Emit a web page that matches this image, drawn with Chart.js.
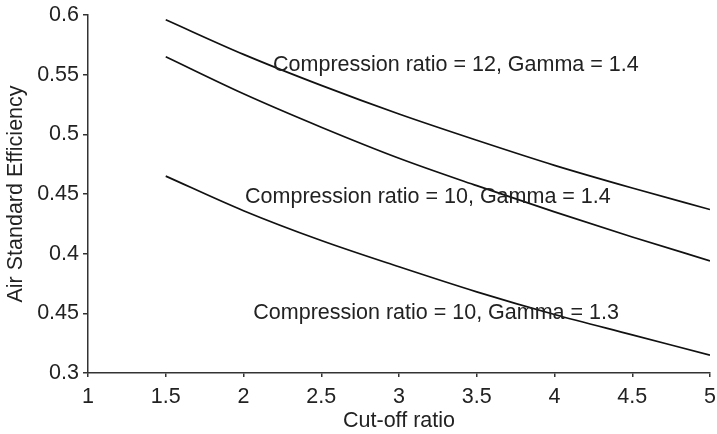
<!DOCTYPE html>
<html>
<head>
<meta charset="utf-8">
<script src="https://cdn.jsdelivr.net/npm/chart.js@4.4.1/dist/chart.umd.min.js"></script>
<style>
  html, body { margin: 0; padding: 0; background: #ffffff; }
  #wrap { width: 717px; height: 434px; }
</style>
</head>
<body>
<div id="wrap"><canvas id="c" width="717" height="434"></canvas></div>
<script>
// Cut-off ratio values (x)
const cutoffRatios = [1.5, 2, 2.5, 3, 3.5, 4, 4.5, 5];
// Air standard efficiency
const effR12G14 = [0.596, 0.567, 0.541, 0.517, 0.495, 0.474, 0.455, 0.437];
const effR10G14 = [0.565, 0.534, 0.506, 0.480, 0.457, 0.435, 0.414, 0.394];
const effR10G13 = [0.465, 0.436, 0.411, 0.389, 0.368, 0.349, 0.332, 0.315];
const seriesNames = [
  "Compression ratio = 12, Gamma = 1.4",
  "Compression ratio = 10, Gamma = 1.4",
  "Compression ratio = 10, Gamma = 1.3"
];
// Tick labels as printed in the original (including its "0.45" label at 0.35)
const xTickLabels = ["1", "1.5", "2", "2.5", "3", "3.5", "4", "4.5", "5"];
const yTickLabels = ["0.3", "0.45", "0.4", "0.45", "0.5", "0.55", "0.6"];
// Where each curve's text label sits, in data units (left edge, baseline)
const labelAnchors = [
  { x: 2.19, y: 0.5533 },
  { x: 2.01, y: 0.4428 },
  { x: 2.063, y: 0.3452 }
];

const FONT = "'Liberation Sans', Arial, Helvetica, sans-serif";
const FSIZE = 21.5;
const TEXT = '#222222';
const AXIS = '#333333';

function toPoints(ys) { return cutoffRatios.map((x, i) => ({ x: x, y: ys[i] })); }

const curveLabels = {
  id: 'curveLabels',
  afterDatasetsDraw(chart) {
    const { ctx, scales: { x, y } } = chart;
    ctx.save();
    ctx.font = FSIZE + 'px ' + FONT;
    ctx.fillStyle = TEXT;
    ctx.textAlign = 'left';
    ctx.textBaseline = 'alphabetic';
    labelAnchors.forEach((a, i) => {
      ctx.fillText(seriesNames[i], x.getPixelForValue(a.x), y.getPixelForValue(a.y));
    });
    ctx.restore();
  }
};

const lineStyle = {
  borderColor: '#111111',
  borderWidth: 1.7,
  pointRadius: 0,
  fill: false,
  cubicInterpolationMode: 'monotone'
};

new Chart(document.getElementById('c'), {
  type: 'line',
  data: {
    datasets: [
      Object.assign({ label: seriesNames[0], data: toPoints(effR12G14) }, lineStyle),
      Object.assign({ label: seriesNames[1], data: toPoints(effR10G14) }, lineStyle),
      Object.assign({ label: seriesNames[2], data: toPoints(effR10G13) }, lineStyle)
    ]
  },
  options: {
    responsive: false,
    animation: false,
    devicePixelRatio: 1,
    layout: { padding: { top: 15, right: 7, left: 0, bottom: 0 } },
    plugins: { legend: { display: false }, tooltip: { enabled: false } },
    scales: {
      x: {
        type: 'linear',
        min: 1, max: 5,
        afterFit(s) { s.height = 61; s.paddingRight = 0; s.paddingLeft = 0; },
        border: { display: true, color: AXIS, width: 1.5 },
        grid: { display: true, drawOnChartArea: false, drawTicks: true, tickLength: 4, color: AXIS, lineWidth: 1.5 },
        ticks: {
          stepSize: 0.5,
          padding: 7,
          maxRotation: 0,
          autoSkip: false,
          color: TEXT,
          font: { family: FONT, size: FSIZE },
          callback: (v, i) => xTickLabels[i]
        },
        title: {
          display: true,
          text: 'Cut-off ratio',
          color: TEXT,
          font: { family: FONT, size: FSIZE },
          padding: { top: 0, bottom: 0 }
        }
      },
      y: {
        type: 'linear',
        min: 0.3, max: 0.6,
        afterFit(s) { s.width = 88; s.paddingTop = 0; s.paddingBottom = 0; },
        border: { display: true, color: AXIS, width: 1.5 },
        grid: { display: true, drawOnChartArea: false, drawTicks: true, tickLength: 5, color: AXIS, lineWidth: 1.5 },
        ticks: {
          stepSize: 0.05,
          padding: 4,
          autoSkip: false,
          color: TEXT,
          font: { family: FONT, size: FSIZE },
          callback: (v, i) => yTickLabels[i]
        },
        title: {
          display: true,
          text: 'Air Standard Efficiency',
          color: TEXT,
          font: { family: FONT, size: FSIZE },
          padding: { top: 3, bottom: 0 }
        }
      }
    }
  },
  plugins: [curveLabels]
});
</script>
</body>
</html>
